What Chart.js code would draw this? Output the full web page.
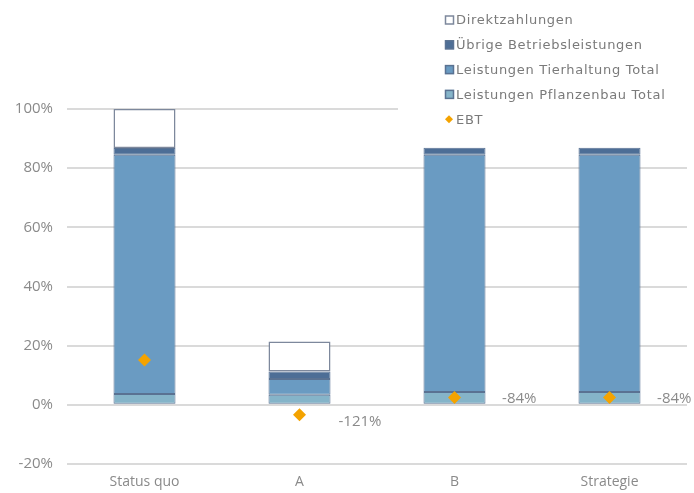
<!DOCTYPE html>
<html>
<head>
<meta charset="utf-8">
<script src="https://cdn.jsdelivr.net/npm/chart.js@4"></script>
<style>
  html, body { margin: 0; padding: 0; background: #fff; }
  #chart { display: block; }
</style>
</head>
<body>
<canvas id="chart" width="694" height="493"></canvas>
<script>
const categories = ['Status quo', 'A', 'B', 'Strategie'];

// stacked shares of total, in %
const pflanzenbau = [3.7, 3.4, 4.3, 4.3];
const tierhaltung = [80.8, 5.3, 80.2, 80.2];
const uebrige = [2.3, 2.6, 2.4, 2.4];
const direktzahlungen = [13.2, 10.1, null, null];

// EBT on its own (hidden) axis
const ebt = [-4, -121, -84, -84];
const ebtLabels = ['', '-121%', '-84%', '-84%'];

const yTicks = [-20, 0, 20, 40, 60, 80, 100];

const grey = '#8a8a8a';
const edge = '#5a7292';

// legend drawn on a white box over the top right corner, like the original
const boxLegend = {
  id: 'boxLegend',
  afterDraw(chart) {
    const ctx = chart.ctx;
    ctx.save();
    ctx.fillStyle = '#fff';
    ctx.fillRect(398, 0, 296, 132);
    ctx.font = '13px "DejaVu Sans"';
    ctx.letterSpacing = '0.7px';
    ctx.textBaseline = 'middle';
    const all = chart.data.datasets;
    const bars = all.filter(d => d.type !== 'line').reverse();
    const items = bars.concat(all.filter(d => d.type === 'line'));
    items.forEach((ds, i) => {
      const y = 20 + i * 24.8;
      if (ds.type === 'line') {
        ctx.fillStyle = ds.backgroundColor;
        ctx.beginPath();
        ctx.moveTo(449, y - 4);
        ctx.lineTo(453, y);
        ctx.lineTo(449, y + 4);
        ctx.lineTo(445, y);
        ctx.closePath();
        ctx.fill();
      } else {
        ctx.fillStyle = ds.backgroundColor;
        ctx.fillRect(445, y - 4.5, 9, 9);
        ctx.strokeStyle = ds.borderColor;
        ctx.lineWidth = 1.5;
        ctx.strokeRect(445.5, y - 4, 8, 8);
      }
      ctx.fillStyle = '#7a7a7a';
      ctx.fillText(ds.label, 456, y + 1);
    });
    ctx.restore();
  }
};

// value labels next to the EBT diamonds
const ebtText = {
  id: 'ebtText',
  afterDatasetsDraw(chart) {
    const ctx = chart.ctx;
    const zero = chart.scales.y.getPixelForValue(0);
    const meta = chart.getDatasetMeta(4);
    ctx.save();
    ctx.font = '15px "Open Sans"';
    ctx.fillStyle = grey;
    ctx.textAlign = 'right';
    ctx.textBaseline = 'middle';
    meta.data.forEach((pt, i) => {
      const txt = ebtLabels[i];
      if (!txt) return;
      const dy = pt.y > zero ? 7 : 1;
      ctx.fillText(txt, pt.x + 82, pt.y + dy);
    });
    ctx.restore();
  }
};

new Chart(document.getElementById('chart'), {
  type: 'bar',
  data: {
    labels: categories,
    datasets: [
      {
        label: 'Leistungen Pflanzenbau Total',
        data: pflanzenbau,
        backgroundColor: '#85b4c9',
        borderColor: edge,
        borderWidth: 1,
        order: 1
      },
      {
        label: 'Leistungen Tierhaltung Total',
        data: tierhaltung,
        backgroundColor: '#6a9bc2',
        borderColor: edge,
        borderWidth: 1,
        order: 1
      },
      {
        label: 'Übrige Betriebsleistungen',
        data: uebrige,
        backgroundColor: '#4d6e96',
        borderColor: edge,
        borderWidth: 1,
        order: 1
      },
      {
        label: 'Direktzahlungen',
        data: direktzahlungen,
        backgroundColor: '#ffffff',
        borderColor: '#7d889c',
        borderWidth: 1.5,
        order: 1
      },
      {
        type: 'line',
        label: 'EBT',
        data: ebt,
        yAxisID: 'y2',
        showLine: false,
        pointStyle: 'rectRot',
        pointRadius: 6.5,
        backgroundColor: '#f4a300',
        borderColor: '#f4a300',
        borderWidth: 0,
        order: 0
      }
    ]
  },
  options: {
    responsive: false,
    animation: false,
    layout: { padding: { left: 0, right: 7, top: 109, bottom: 0 } },
    datasets: { bar: { categoryPercentage: 1, barPercentage: 0.4, borderSkipped: false } },
    plugins: {
      legend: { display: false },
      tooltip: { enabled: false }
    },
    scales: {
      x: {
        stacked: true,
        border: { display: false },
        grid: { display: false, drawTicks: false },
        ticks: {
          color: grey,
          font: { family: 'Open Sans', size: 14 },
          padding: 10
        },
        afterFit(scale) { scale.height = 29; }
      },
      y: {
        stacked: true,
        min: -20,
        max: 100,
        afterBuildTicks(scale) { scale.ticks = yTicks.map(v => ({ value: v })); },
        border: { display: false },
        grid: { color: '#dadada', lineWidth: 2, drawTicks: false },
        ticks: {
          color: grey,
          font: { family: 'Open Sans', size: 15 },
          padding: 14,
          callback: v => v + '%'
        },
        afterFit(scale) { scale.width = 67; }
      },
      y2: {
        display: false,
        min: -226,
        max: 531
      }
    }
  },
  plugins: [ebtText, boxLegend]
});
</script>
</body>
</html>
